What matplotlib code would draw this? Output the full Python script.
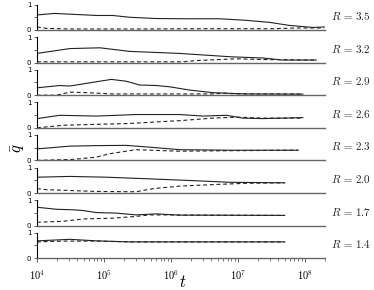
import matplotlib
matplotlib.use("Agg")
import matplotlib.pyplot as plt
import numpy as np

plt.rcParams['mathtext.fontset'] = 'cm'

# R values, top panel first
R_values = ['3.5', '3.2', '2.9', '2.6', '2.3', '2.0', '1.7', '1.4']

# log10(t) and q for the solid curves
solid_logt = [
    [4.0, 4.26, 4.89, 5.13, 5.38, 5.78, 6.28, 6.73, 7.12, 7.47, 7.77, 8.12, 8.29],
    [4.0, 4.49, 4.94, 5.38, 6.13, 6.88, 7.37, 7.67, 8.17],
    [4.0, 4.34, 4.49, 5.11, 5.33, 5.53, 5.78, 5.98, 6.28, 6.63, 7.12, 7.97],
    [4.0, 4.34, 4.89, 5.48, 6.13, 6.48, 6.83, 7.07, 7.37, 7.97],
    [4.0, 4.49, 4.89, 5.33, 5.63, 6.13, 6.88, 7.9],
    [4.0, 4.49, 5.03, 5.63, 6.28, 6.88, 7.7],
    [4.0, 4.29, 4.54, 4.69, 4.89, 5.18, 5.48, 5.78, 6.13, 7.7],
    [4.0, 4.49, 4.89, 5.38, 7.7],
]
solid_q = [
    [0.59, 0.65, 0.57, 0.57, 0.50, 0.45, 0.44, 0.44, 0.38, 0.30, 0.18, 0.10, 0.12],
    [0.36, 0.55, 0.58, 0.44, 0.36, 0.23, 0.18, 0.10, 0.10],
    [0.29, 0.38, 0.36, 0.62, 0.55, 0.40, 0.38, 0.33, 0.20, 0.10, 0.05, 0.04],
    [0.36, 0.49, 0.46, 0.52, 0.52, 0.46, 0.49, 0.38, 0.36, 0.40],
    [0.45, 0.56, 0.58, 0.59, 0.53, 0.42, 0.40, 0.40],
    [0.62, 0.65, 0.62, 0.56, 0.49, 0.42, 0.40],
    [0.72, 0.64, 0.62, 0.59, 0.51, 0.49, 0.42, 0.46, 0.41, 0.40],
    [0.68, 0.74, 0.68, 0.64, 0.64],
]

# log10(t) and q for the dashed curves
dashed_logt = [
    [4.0, 4.15, 4.5, 5.5, 6.5, 7.5, 7.9, 8.29],
    [4.0, 6.18, 6.38, 6.98, 7.37, 8.17],
    [4.0, 4.29, 4.49, 4.74, 5.13, 6.63, 6.78, 6.98, 7.97],
    [4.0, 4.39, 5.38, 5.78, 6.13, 6.63, 6.98, 7.37, 7.97],
    [4.0, 4.54, 4.89, 5.08, 5.48, 6.13, 6.88, 7.9],
    [4.0, 4.14, 4.89, 5.48, 5.73, 6.13, 6.63, 7.12, 7.7],
    [4.0, 4.39, 4.69, 5.13, 5.48, 5.68, 7.7],
    [4.0, 4.39, 4.89, 5.38, 7.7],
]
dashed_q = [
    [0.12, 0.06, 0.04, 0.04, 0.05, 0.05, 0.08, 0.08],
    [0.03, 0.03, 0.08, 0.15, 0.12, 0.10],
    [0.0, 0.0, 0.12, 0.10, 0.05, 0.05, 0.08, 0.05, 0.05],
    [0.0, 0.10, 0.17, 0.23, 0.28, 0.38, 0.42, 0.38, 0.38],
    [0.0, 0.04, 0.13, 0.26, 0.42, 0.36, 0.38, 0.40],
    [0.17, 0.13, 0.06, 0.05, 0.17, 0.27, 0.33, 0.38, 0.40],
    [0.13, 0.17, 0.26, 0.29, 0.36, 0.42, 0.40],
    [0.64, 0.67, 0.67, 0.64, 0.64],
]

x_ticks = [1e4, 1e5, 1e6, 1e7, 1e8]
x_ticklabels = [r'$\mathsf{10}^{\mathsf{%d}}$' % k for k in range(4, 9)]

W, H = 374, 290
fig = plt.figure(figsize=(W / 100, H / 100), dpi=100)

left, right = 37, 325
top0, ph, pitch = 4.5, 25.5, 32.6

for i, R in enumerate(R_values):
    top = top0 + i * pitch
    ax = fig.add_axes([left / W, 1 - (top + ph) / H, (right - left) / W, ph / H])
    ax.plot(10 ** np.array(solid_logt[i]), solid_q[i], color='#222222', lw=0.8)
    ax.plot(10 ** np.array(dashed_logt[i]), dashed_q[i], color='#222222', lw=0.8,
            dashes=(3.5, 2.5))
    ax.set_xscale('log')
    ax.set_xlim(1e4, 2e8)
    ax.set_ylim(0, 1)
    ax.patch.set_visible(False)
    for s in ['top', 'right']:
        ax.spines[s].set_visible(False)
    ax.spines['left'].set_linewidth(0.8)
    ax.spines['bottom'].set_linewidth(1.0)
    ax.spines['bottom'].set_color('#666666')
    ax.set_yticks([0, 0.5, 1])
    ax.set_yticklabels(['0', '', '1'], fontsize=5)
    ax.tick_params(axis='y', length=2.5, width=0.6, pad=1.5, color='#444444')
    ax.text(1.02, 0.55, r'$R\,=\,' + R + '$', transform=ax.transAxes,
            fontsize=8, ha='left', va='center', color='#222222')
    if i < len(R_values) - 1:
        ax.tick_params(axis='x', which='both', bottom=False, labelbottom=False)
    else:
        ax.set_xticks(x_ticks)
        ax.set_xticklabels(x_ticklabels)
        ax.tick_params(axis='x', which='major', length=3, width=0.6, labelsize=7.5,
                       pad=4, color='#444444')
        ax.tick_params(axis='x', which='minor', length=2, width=0.5, color='#444444')

fig.text(183 / W, 1 - 282 / H, r'$t$', fontsize=12, ha='center', va='center')
fig.text(18 / W, 1 - 148 / H, r'$\bar{q}$', fontsize=12, ha='center', va='center',
         rotation=90)

fig.savefig('out.png', dpi=100)
